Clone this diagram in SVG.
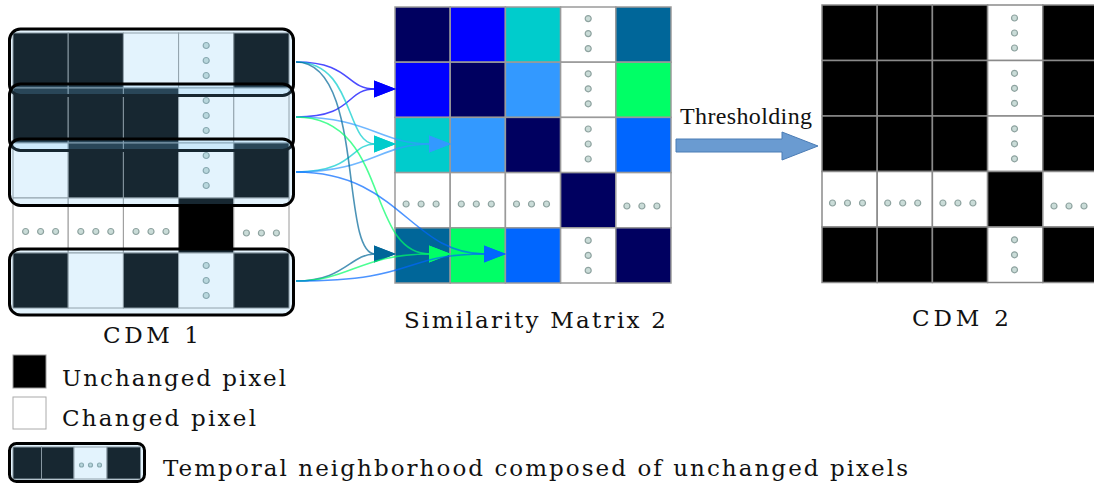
<svg xmlns="http://www.w3.org/2000/svg" width="1094" height="486" viewBox="0 0 1094 486">
<style>
.k{fill:#000;stroke:#8c8c8c;stroke-width:1}
.w{fill:#fff;stroke:#9a9a9a;stroke-width:1}
.sm{stroke:#9a9a9a;stroke-width:1.5}
.c2{stroke:#8a8a8a;stroke-width:1.5}
.dot{fill:#cadcd8;stroke:#8fa3a0;stroke-width:1.2}
.nb{fill:rgb(115,195,245);fill-opacity:0.2;stroke:#000;stroke-width:3}
.lbl{font-family:"DejaVu Serif","Liberation Serif",serif;font-size:23px;fill:#111}
.cn{fill:none;stroke-width:1.6;stroke-opacity:0.7}
</style>
<defs>
<circle id="d" r="3" class="dot"/>
<g id="vd"><use href="#d" y="-15"/><use href="#d"/><use href="#d" y="15"/></g>
<g id="hd"><use href="#d" x="-15"/><use href="#d"/><use href="#d" x="15"/></g>
<marker id="mBlue" markerUnits="userSpaceOnUse" markerWidth="22" markerHeight="18" viewBox="0 0 22 18" refX="1" refY="9" orient="auto"><path d="M0,0.5 L22,9 L0,17.5 Z" fill="#0000ff"/></marker>
<marker id="mCyan" markerUnits="userSpaceOnUse" markerWidth="22" markerHeight="18" viewBox="0 0 22 18" refX="1" refY="9" orient="auto"><path d="M0,0.5 L22,9 L0,17.5 Z" fill="#00cccc"/></marker>
<marker id="mLb" markerUnits="userSpaceOnUse" markerWidth="22" markerHeight="18" viewBox="0 0 22 18" refX="1" refY="9" orient="auto"><path d="M0,0.5 L22,9 L0,17.5 Z" fill="#3399ff"/></marker>
<marker id="mSt" markerUnits="userSpaceOnUse" markerWidth="22" markerHeight="18" viewBox="0 0 22 18" refX="1" refY="9" orient="auto"><path d="M0,0.5 L22,9 L0,17.5 Z" fill="#006699"/></marker>
<marker id="mGr" markerUnits="userSpaceOnUse" markerWidth="22" markerHeight="18" viewBox="0 0 22 18" refX="1" refY="9" orient="auto"><path d="M0,0.5 L22,9 L0,17.5 Z" fill="#00ff66"/></marker>
<marker id="mB2" markerUnits="userSpaceOnUse" markerWidth="22" markerHeight="18" viewBox="0 0 22 18" refX="1" refY="9" orient="auto"><path d="M0,0.5 L22,9 L0,17.5 Z" fill="#0066ff"/></marker>
</defs>
<rect width="1094" height="486" fill="#fff"/>

<g id="cdm1">
<rect class="k" x="13" y="33" width="55.2" height="55"/>
<rect class="k" x="68.2" y="33" width="55.2" height="55"/>
<rect class="w" x="123.4" y="33" width="55.2" height="55"/>
<rect class="w" x="178.6" y="33" width="55.2" height="55"/>
<rect class="k" x="233.8" y="33" width="55.2" height="55"/>
<rect class="k" x="13" y="88" width="55.2" height="55"/>
<rect class="k" x="68.2" y="88" width="55.2" height="55"/>
<rect class="k" x="123.4" y="88" width="55.2" height="55"/>
<rect class="w" x="178.6" y="88" width="55.2" height="55"/>
<rect class="w" x="233.8" y="88" width="55.2" height="55"/>
<rect class="w" x="13" y="143" width="55.2" height="55"/>
<rect class="k" x="68.2" y="143" width="55.2" height="55"/>
<rect class="k" x="123.4" y="143" width="55.2" height="55"/>
<rect class="w" x="178.6" y="143" width="55.2" height="55"/>
<rect class="k" x="233.8" y="143" width="55.2" height="55"/>
<rect class="w" x="13" y="198" width="55.2" height="55"/>
<rect class="w" x="68.2" y="198" width="55.2" height="55"/>
<rect class="w" x="123.4" y="198" width="55.2" height="55"/>
<rect class="k" x="178.6" y="198" width="55.2" height="55"/>
<rect class="w" x="233.8" y="198" width="55.2" height="55"/>
<rect class="k" x="13" y="253" width="55.2" height="55"/>
<rect class="w" x="68.2" y="253" width="55.2" height="55"/>
<rect class="k" x="123.4" y="253" width="55.2" height="55"/>
<rect class="w" x="178.6" y="253" width="55.2" height="55"/>
<rect class="k" x="233.8" y="253" width="55.2" height="55"/>
<use href="#vd" x="206.2" y="60.5"/>
<use href="#vd" x="206.2" y="115.5"/>
<use href="#vd" x="206.2" y="170.5"/>
<use href="#vd" x="206.2" y="280.5"/>
<use href="#hd" x="40.6" y="231.5"/>
<use href="#hd" x="95.8" y="231.5"/>
<use href="#hd" x="151" y="231.5"/>
<use href="#hd" x="261.4" y="233"/>
</g>
<g id="neighborhood1"><rect class="nb" x="9.5" y="29" width="284" height="66.5" rx="11"/></g>
<g id="neighborhood2"><rect class="nb" x="9.5" y="84" width="284" height="66.5" rx="11"/></g>
<g id="neighborhood3"><rect class="nb" x="9.5" y="139" width="284" height="66.5" rx="11"/></g>
<g id="neighborhood5"><rect class="nb" x="9.5" y="249" width="284" height="66" rx="11"/></g>
<g id="cdm1-label"><text class="lbl" x="103" y="343" textLength="96">CDM 1</text></g>

<g id="similarity-matrix">
<rect class="sm" fill="#000060" x="395" y="7" width="55.2" height="55.2"/>
<rect class="sm" fill="#0000ff" x="450.2" y="7" width="55.2" height="55.2"/>
<rect class="sm" fill="#00cccc" x="505.4" y="7" width="55.2" height="55.2"/>
<rect class="sm" fill="#fff" x="560.6" y="7" width="55.2" height="55.2"/>
<rect class="sm" fill="#006699" x="615.8" y="7" width="55.2" height="55.2"/>
<rect class="sm" fill="#0000ff" x="395" y="62.2" width="55.2" height="55.2"/>
<rect class="sm" fill="#000060" x="450.2" y="62.2" width="55.2" height="55.2"/>
<rect class="sm" fill="#3399ff" x="505.4" y="62.2" width="55.2" height="55.2"/>
<rect class="sm" fill="#fff" x="560.6" y="62.2" width="55.2" height="55.2"/>
<rect class="sm" fill="#00ff66" x="615.8" y="62.2" width="55.2" height="55.2"/>
<rect class="sm" fill="#00cccc" x="395" y="117.4" width="55.2" height="55.2"/>
<rect class="sm" fill="#3399ff" x="450.2" y="117.4" width="55.2" height="55.2"/>
<rect class="sm" fill="#000060" x="505.4" y="117.4" width="55.2" height="55.2"/>
<rect class="sm" fill="#fff" x="560.6" y="117.4" width="55.2" height="55.2"/>
<rect class="sm" fill="#0066ff" x="615.8" y="117.4" width="55.2" height="55.2"/>
<rect class="sm" fill="#fff" x="395" y="172.6" width="55.2" height="55.2"/>
<rect class="sm" fill="#fff" x="450.2" y="172.6" width="55.2" height="55.2"/>
<rect class="sm" fill="#fff" x="505.4" y="172.6" width="55.2" height="55.2"/>
<rect class="sm" fill="#000060" x="560.6" y="172.6" width="55.2" height="55.2"/>
<rect class="sm" fill="#fff" x="615.8" y="172.6" width="55.2" height="55.2"/>
<rect class="sm" fill="#006699" x="395" y="227.8" width="55.2" height="55.2"/>
<rect class="sm" fill="#00ff66" x="450.2" y="227.8" width="55.2" height="55.2"/>
<rect class="sm" fill="#0066ff" x="505.4" y="227.8" width="55.2" height="55.2"/>
<rect class="sm" fill="#fff" x="560.6" y="227.8" width="55.2" height="55.2"/>
<rect class="sm" fill="#000060" x="615.8" y="227.8" width="55.2" height="55.2"/>
<use href="#vd" x="588.2" y="33.6"/>
<use href="#vd" x="588.2" y="88.8"/>
<use href="#vd" x="588.2" y="144"/>
<use href="#vd" x="588.2" y="255.4"/>
<use href="#hd" x="421.1" y="204"/>
<use href="#hd" x="476.3" y="204"/>
<use href="#hd" x="531.5" y="204"/>
<use href="#hd" x="641.9" y="206"/>
</g>
<g id="similarity-label"><text class="lbl" x="404" y="328" textLength="262">Similarity Matrix 2</text></g>

<g id="connectors">
<path class="cn" stroke="#0000ff" d="M296,62 C352,62 345,89 375,89" marker-end="url(#mBlue)"/>
<path class="cn" stroke="#0000ff" d="M296,117 C355,117 345,89 375,89" marker-end="url(#mBlue)"/>
<path class="cn" stroke="#00cccc" d="M296,62 C355,62 345,144 375,144" marker-end="url(#mCyan)"/>
<path class="cn" stroke="#00cccc" d="M296,172 C355,172 350,144 375,144" marker-end="url(#mCyan)"/>
<path class="cn" stroke="#3399ff" d="M296,117 C370,117 380,144 430,144" marker-end="url(#mLb)"/>
<path class="cn" stroke="#3399ff" d="M296,172 C370,172 380,144 430,144" marker-end="url(#mLb)"/>
<path class="cn" stroke="#006699" d="M296,62 C365,62 340,254 375,254" marker-end="url(#mSt)"/>
<path class="cn" stroke="#006699" d="M296,281 C345,281 350,254 375,254" marker-end="url(#mSt)"/>
<path class="cn" stroke="#00ff66" d="M296,117 C390,117 365,254 430,254" marker-end="url(#mGr)"/>
<path class="cn" stroke="#00ff66" d="M296,281 C350,281 360,254 430,254" marker-end="url(#mGr)"/>
<path class="cn" stroke="#0066ff" d="M296,172 C400,172 410,254 485,254" marker-end="url(#mB2)"/>
<path class="cn" stroke="#0066ff" d="M296,281 C420,281 400,254 485,254" marker-end="url(#mB2)"/>
</g>

<g id="thresholding">
<polygon points="676,139 782,139 782,132 818,146 782,160 782,152 676,152" fill="#6a9bd1" stroke="#4b7cb5" stroke-width="1"/>
<text x="680" y="124" font-family="Liberation Serif, serif" font-size="24" fill="#111" textLength="132">Thresholding</text>
</g>

<g id="cdm2">
<rect class="c2" fill="#000" x="822" y="5" width="55.2" height="55.5"/>
<rect class="c2" fill="#000" x="877.2" y="5" width="55.2" height="55.5"/>
<rect class="c2" fill="#000" x="932.4" y="5" width="55.2" height="55.5"/>
<rect class="c2" fill="#fff" x="987.6" y="5" width="55.2" height="55.5"/>
<rect class="c2" fill="#000" x="1042.8" y="5" width="55.2" height="55.5"/>
<rect class="c2" fill="#000" x="822" y="60.5" width="55.2" height="55.5"/>
<rect class="c2" fill="#000" x="877.2" y="60.5" width="55.2" height="55.5"/>
<rect class="c2" fill="#000" x="932.4" y="60.5" width="55.2" height="55.5"/>
<rect class="c2" fill="#fff" x="987.6" y="60.5" width="55.2" height="55.5"/>
<rect class="c2" fill="#000" x="1042.8" y="60.5" width="55.2" height="55.5"/>
<rect class="c2" fill="#000" x="822" y="116" width="55.2" height="55.5"/>
<rect class="c2" fill="#000" x="877.2" y="116" width="55.2" height="55.5"/>
<rect class="c2" fill="#000" x="932.4" y="116" width="55.2" height="55.5"/>
<rect class="c2" fill="#fff" x="987.6" y="116" width="55.2" height="55.5"/>
<rect class="c2" fill="#000" x="1042.8" y="116" width="55.2" height="55.5"/>
<rect class="c2" fill="#fff" x="822" y="171.5" width="55.2" height="55.5"/>
<rect class="c2" fill="#fff" x="877.2" y="171.5" width="55.2" height="55.5"/>
<rect class="c2" fill="#fff" x="932.4" y="171.5" width="55.2" height="55.5"/>
<rect class="c2" fill="#000" x="987.6" y="171.5" width="55.2" height="55.5"/>
<rect class="c2" fill="#fff" x="1042.8" y="171.5" width="55.2" height="55.5"/>
<rect class="c2" fill="#000" x="822" y="227" width="55.2" height="55.5"/>
<rect class="c2" fill="#000" x="877.2" y="227" width="55.2" height="55.5"/>
<rect class="c2" fill="#000" x="932.4" y="227" width="55.2" height="55.5"/>
<rect class="c2" fill="#fff" x="987.6" y="227" width="55.2" height="55.5"/>
<rect class="c2" fill="#000" x="1042.8" y="227" width="55.2" height="55.5"/>
<use href="#vd" x="1014.5" y="33"/>
<use href="#vd" x="1014.5" y="88.3"/>
<use href="#vd" x="1014.5" y="143.8"/>
<use href="#vd" x="1014.5" y="254.8"/>
<use href="#hd" x="847.5" y="203"/>
<use href="#hd" x="902.7" y="203"/>
<use href="#hd" x="957.9" y="203"/>
<use href="#hd" x="1069" y="206"/>
</g>
<g id="cdm2-label"><text class="lbl" x="912" y="326" textLength="97">CDM 2</text></g>

<g id="legend-unchanged">
<rect x="13" y="355" width="33" height="33" fill="#000" stroke="#999" stroke-width="1"/>
<text class="lbl" x="62" y="386" textLength="224">Unchanged pixel</text>
</g>
<g id="legend-changed">
<rect x="13" y="397" width="33" height="32" fill="#fff" stroke="#aaa" stroke-width="1"/>
<text class="lbl" x="62" y="426" textLength="194">Changed pixel</text>
</g>
<g id="legend-neighborhood">
<rect class="k" x="13" y="447" width="28.5" height="32"/>
<rect class="k" x="41.5" y="447" width="32.5" height="32"/>
<rect class="w" x="74" y="447" width="33" height="32"/>
<rect class="k" x="107" y="447" width="33.5" height="32"/>
<circle class="dot" cx="81.5" cy="465" r="2" stroke-width="0.8"/>
<circle class="dot" cx="90.5" cy="465" r="2" stroke-width="0.8"/>
<circle class="dot" cx="99.5" cy="465" r="2" stroke-width="0.8"/>
<rect class="nb" x="9.5" y="443.5" width="135" height="38" rx="7"/>
<text class="lbl" x="163" y="476" textLength="745">Temporal neighborhood composed of unchanged pixels</text>
</g>
</svg>
